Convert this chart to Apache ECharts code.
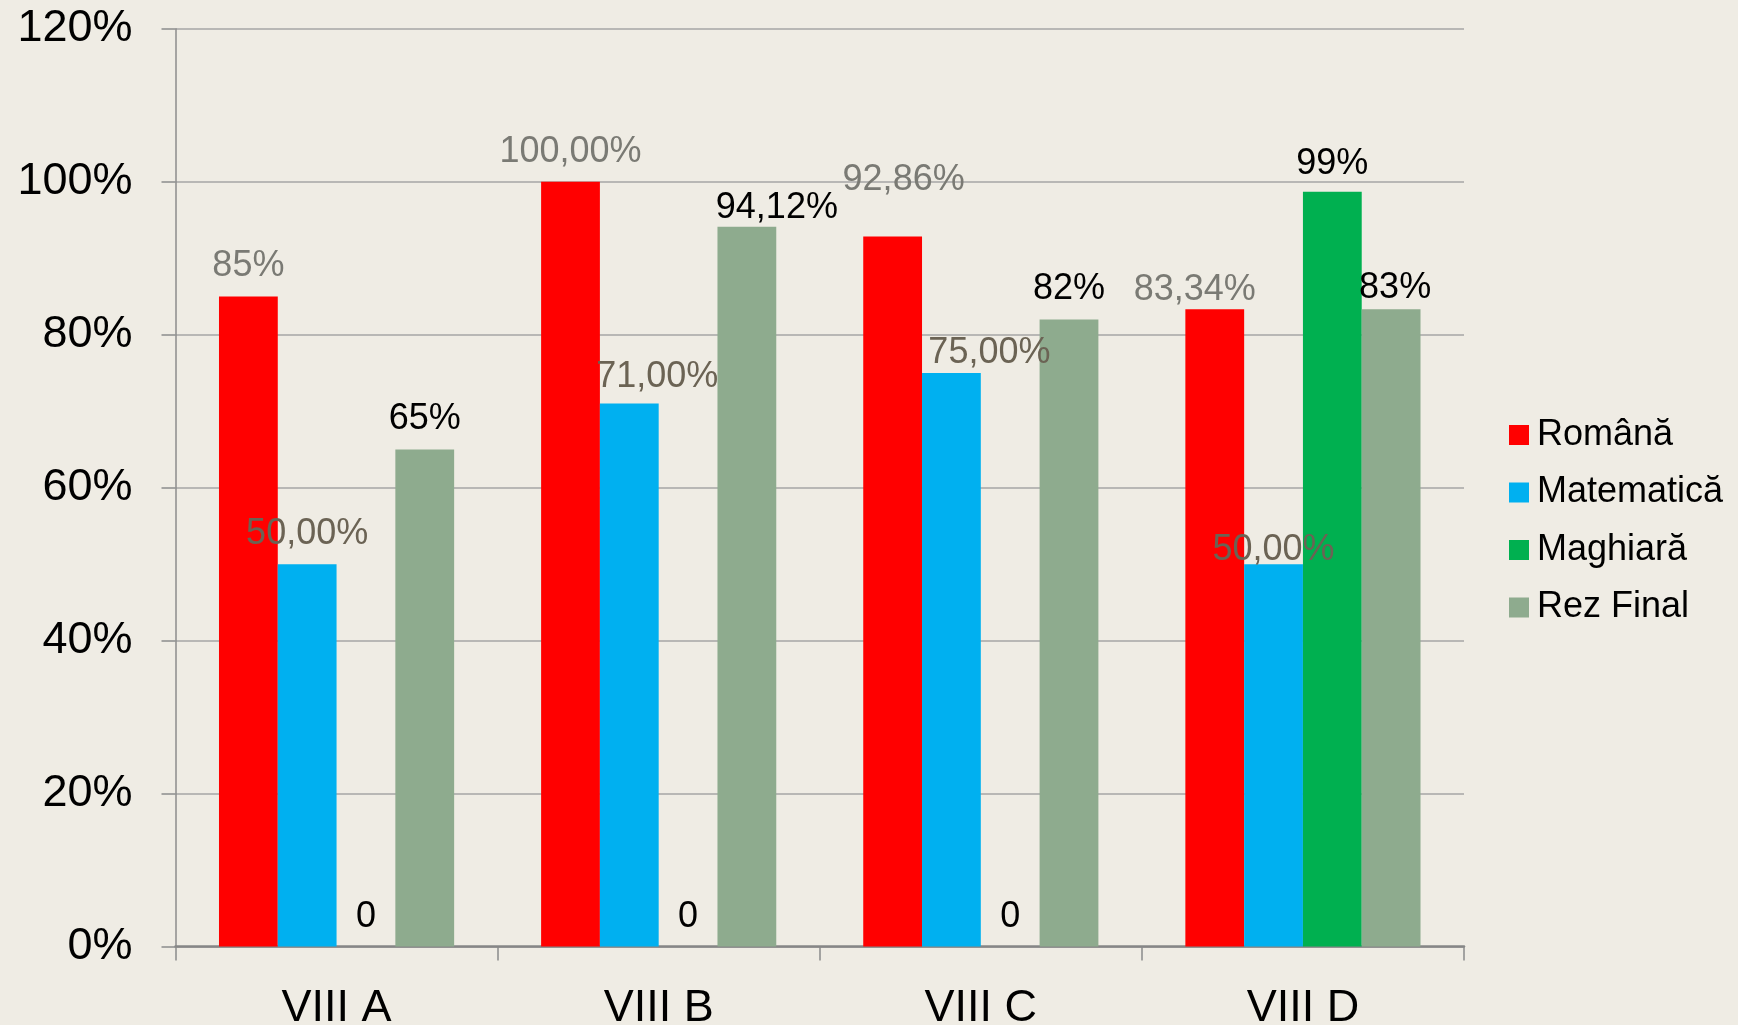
<!DOCTYPE html>
<html>
<head>
<meta charset="utf-8">
<script src="https://cdn.jsdelivr.net/npm/echarts@6/dist/echarts.min.js"></script>
<style>
html,body{margin:0;padding:0;background:#efece4;}
#c{width:1738px;height:1025px;}
</style>
</head>
<body>
<div id="c"></div>
<script>
// ---- data ----
const categories = ['VIII A', 'VIII B', 'VIII C', 'VIII D'];
const seriesNames = ['Română', 'Matematică', 'Maghiară', 'Rez Final'];
const romana     = [0.85, 1.00, 0.9286, 0.8334];
const matematica = [0.50, 0.71, 0.75, 0.50];
const maghiara   = [0, 0, 0, 0.987];
const rezFinal   = [0.65, 0.9412, 0.82, 0.8334];
// decimals shown in each data label
const romanaDec     = [0, 2, 2, 2];
const matematicaDec = [2, 2, 2, 2];
const maghiaraDec   = [0, 0, 0, 0];
const rezFinalDec   = [0, 2, 0, 0];
const yTicks = [0, 0.2, 0.4, 0.6, 0.8, 1.0, 1.2];

// ---- styling ----
const colors = ['#ff0000', '#00b0f0', '#00b050', '#8eab8e'];
const labelColors = ['#7a7a74', '#6b6354', '#000000', '#000000'];
// manual label nudges [dx, dy] in px (as moved in the original)
const nudges = [
  [[0,0],[0,0],[11,-26],[-20,11]],
  [[0,0],[28,4],[38,10],[0,16]],
  [[0,0],[0,0],[0,0],[0,2]],
  [[0,0],[30,11],[0,0],[4,9]]
];

const FONT = '"Liberation Sans", Arial, sans-serif';
function fmt(v, d) {
  if (v === 0) return '0';
  return (v * 100).toFixed(d).replace('.', ',') + '%';
}

const values = [romana, matematica, maghiara, rezFinal];
const decs = [romanaDec, matematicaDec, maghiaraDec, rezFinalDec];

const series = values.map((arr, si) => ({
  name: seriesNames[si],
  type: 'bar',
  barGap: '0%',
  barCategoryGap: '27%',
  itemStyle: { color: colors[si] },
  data: arr.map((v, i) => ({
    value: v,
    label: { offset: nudges[si][i] }
  })),
  label: {
    show: true,
    position: 'top',
    distance: 12,
    color: labelColors[si],
    fontFamily: FONT,
    fontSize: 36,
    formatter: p => fmt(p.value, decs[si][p.dataIndex])
  }
}));

const chart = echarts.init(document.getElementById('c'), null, { renderer: 'canvas' });
chart.setOption({
  backgroundColor: '#efece4',
  animation: false,
  grid: { left: 175.5, right: 274, top: 28.8, bottom: 78.4, containLabel: false, outerBoundsMode: 'none' },
  legend: {
    orient: 'vertical',
    left: 1509,
    top: 417,
    padding: 0,
    itemWidth: 20,
    itemHeight: 20,
    itemGap: 21.5,
    icon: 'rect',
    data: seriesNames,
    textStyle: { fontFamily: FONT, fontSize: 36, color: '#000', lineHeight: 36, padding: [0,0,0,3] }
  },
  xAxis: {
    type: 'category',
    data: categories,
    axisLine: { lineStyle: { color: '#868686', width: 2.5 } },
    axisTick: { show: true, length: 14, lineStyle: { color: '#8a8a8a', width: 1.5 } },
    axisLabel: { margin: 39, fontFamily: FONT, fontSize: 45, color: '#000', verticalAlign: 'top' },
    splitLine: { show: false }
  },
  yAxis: {
    type: 'value',
    min: yTicks[0],
    max: yTicks[yTicks.length - 1],
    interval: 0.2,
    axisLine: { show: true, lineStyle: { color: '#8c8c8c', width: 1.5 } },
    axisTick: { show: true, length: 14, lineStyle: { color: '#8c8c8c', width: 1.5 } },
    axisLabel: {
      margin: 43, fontFamily: FONT, fontSize: 45, color: '#000',
      formatter: v => Math.round(v * 100) + '%'
    },
    splitLine: { show: true, lineStyle: { color: '#a6a6a6', width: 1.5 } }
  },
  series: series
});
</script>
</body>
</html>
